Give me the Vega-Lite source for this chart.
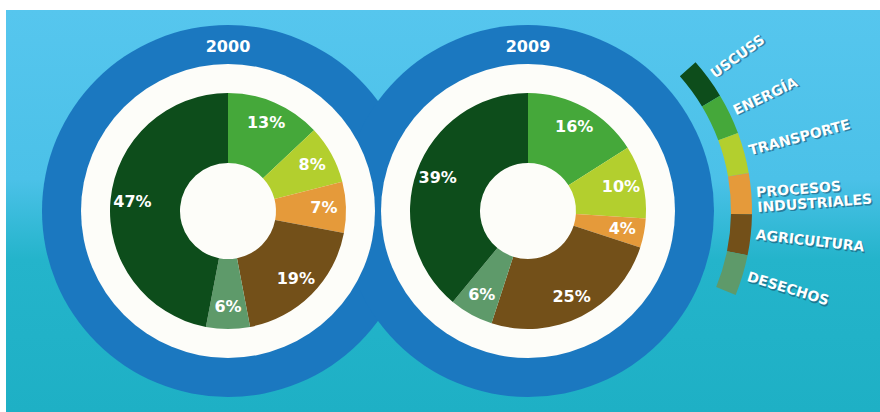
{
  "$schema": "https://vega.github.io/schema/vega-lite/v6.json",
  "width": 880,
  "height": 412,
  "autosize": {"type": "fit", "contains": "padding"},
  "padding": {"left": 6, "top": 10, "right": 0, "bottom": 0},
  "background": "#ffffff",
  "config": {
    "view": {
      "stroke": null,
      "fill": {
        "gradient": "linear", "x1": 0, "y1": 0, "x2": 0, "y2": 1,
        "stops": [
          {"offset": 0, "color": "#56c6ee"},
          {"offset": 0.42, "color": "#4bc1e8"},
          {"offset": 0.62, "color": "#24b4cb"},
          {"offset": 1, "color": "#1eb0c5"}
        ]
      }
    }
  },
  "datasets": {
    "years": [{"year": "2000"}, {"year": "2009"}],
    "shares": [
      {"year": "2000", "sector": "ENERGÍA", "ord": 1, "share": 0.13},
      {"year": "2000", "sector": "TRANSPORTE", "ord": 2, "share": 0.08},
      {"year": "2000", "sector": "PROCESOS INDUSTRIALES", "ord": 3, "share": 0.07},
      {"year": "2000", "sector": "AGRICULTURA", "ord": 4, "share": 0.19},
      {"year": "2000", "sector": "DESECHOS", "ord": 5, "share": 0.06},
      {"year": "2000", "sector": "USCUSS", "ord": 6, "share": 0.47},
      {"year": "2009", "sector": "ENERGÍA", "ord": 1, "share": 0.16},
      {"year": "2009", "sector": "TRANSPORTE", "ord": 2, "share": 0.10},
      {"year": "2009", "sector": "PROCESOS INDUSTRIALES", "ord": 3, "share": 0.04},
      {"year": "2009", "sector": "AGRICULTURA", "ord": 4, "share": 0.25},
      {"year": "2009", "sector": "DESECHOS", "ord": 5, "share": 0.06},
      {"year": "2009", "sector": "USCUSS", "ord": 6, "share": 0.39}
    ],
    "sectors": [
      {"sector": "USCUSS", "rank": 1},
      {"sector": "ENERGÍA", "rank": 2},
      {"sector": "TRANSPORTE", "rank": 3},
      {"sector": "PROCESOS INDUSTRIALES", "rank": 4},
      {"sector": "AGRICULTURA", "rank": 5},
      {"sector": "DESECHOS", "rank": 6}
    ]
  },
  "encoding": {
    "x": {
      "field": "year", "type": "nominal",
      "scale": {"type": "point", "domain": ["2000", "2009"], "range": [222, 522], "padding": 0},
      "axis": null
    }
  },
  "layer": [
    {
      "data": {"name": "years"},
      "mark": {"type": "arc", "radius": 186, "theta": 0, "theta2": 6.2832, "fill": "#1b78c0"}
    },
    {
      "data": {"name": "years"},
      "mark": {"type": "arc", "radius": 147, "theta": 0, "theta2": 6.2832, "fill": "#fdfdf9"}
    },
    {
      "data": {"name": "years"},
      "mark": {"type": "text", "radius": 164, "theta": 0, "font": "DejaVu Sans", "fontWeight": "bold", "fontSize": 16, "fill": "#ffffff", "align": "center", "baseline": "middle"},
      "encoding": {"text": {"field": "year", "type": "nominal"}}
    },
    {
      "data": {"name": "shares"},
      "transform": [{"filter": "datum.year === '2000'"}],
      "encoding": {
        "theta": {"field": "share", "type": "quantitative", "stack": true},
        "order": {"field": "ord", "type": "quantitative"}
      },
      "layer": [
        {
          "mark": {"type": "arc", "outerRadius": 118, "innerRadius": 48},
          "encoding": {
            "color": {
              "field": "sector", "type": "nominal", "legend": null,
              "scale": {
                "domain": ["USCUSS", "ENERGÍA", "TRANSPORTE", "PROCESOS INDUSTRIALES", "AGRICULTURA", "DESECHOS"],
                "range": ["#0d4d1b", "#45a83a", "#b3cf2e", "#e59a3a", "#735019", "#5e9a6a"]
              }
            }
          }
        },
        {
          "mark": {"type": "text", "radius": 96, "font": "DejaVu Sans", "fontWeight": "bold", "fontSize": 16, "align": "center", "baseline": "middle"},
          "encoding": {
            "text": {"field": "share", "type": "quantitative", "format": ".0%"},
            "detail": {"field": "sector", "type": "nominal"},
            "color": {"value": "#ffffff"}
          }
        }
      ]
    },
    {
      "data": {"name": "shares"},
      "transform": [{"filter": "datum.year === '2009'"}],
      "encoding": {
        "theta": {"field": "share", "type": "quantitative", "stack": true},
        "order": {"field": "ord", "type": "quantitative"}
      },
      "layer": [
        {
          "mark": {"type": "arc", "outerRadius": 118, "innerRadius": 48},
          "encoding": {
            "color": {"field": "sector", "type": "nominal", "legend": null}
          }
        },
        {
          "mark": {"type": "text", "radius": 96, "font": "DejaVu Sans", "fontWeight": "bold", "fontSize": 16, "align": "center", "baseline": "middle"},
          "encoding": {
            "text": {"field": "share", "type": "quantitative", "format": ".0%"},
            "detail": {"field": "sector", "type": "nominal"},
            "color": {"value": "#ffffff"}
          }
        }
      ]
    },
    {
      "data": {"name": "sectors"},
      "encoding": {
        "x": {"datum": "2009", "type": "nominal"},
        "theta": {"aggregate": "count", "type": "quantitative", "stack": true, "scale": {"domain": [0, 6], "range": [0.845, 1.955]}},
        "order": {"field": "rank", "type": "quantitative"}
      },
      "layer": [
        {
          "mark": {"type": "arc", "outerRadius": 224, "innerRadius": 203},
          "encoding": {
            "color": {"field": "sector", "type": "nominal", "legend": null}
          }
        },
        {
          "mark": {"type": "text", "radius": 229, "dx": 1.5, "dy": 1.5, "align": "left", "baseline": "middle", "font": "DejaVu Sans", "fontWeight": "bold", "fontSize": 14, "lineBreak": " ", "lineHeight": 15, "opacity": 0.55},
          "encoding": {
            "text": {"field": "sector", "type": "nominal"},
            "detail": {"field": "sector", "type": "nominal"},
            "angle": {"field": "rank", "type": "quantitative", "scale": {"domain": [1, 6], "range": [-36, 17]}, "legend": null},
            "color": {"value": "#1a4a66"}
          }
        },
        {
          "mark": {"type": "text", "radius": 229, "align": "left", "baseline": "middle", "font": "DejaVu Sans", "fontWeight": "bold", "fontSize": 14, "lineBreak": " ", "lineHeight": 15},
          "encoding": {
            "text": {"field": "sector", "type": "nominal"},
            "detail": {"field": "sector", "type": "nominal"},
            "angle": {"field": "rank", "type": "quantitative", "scale": {"domain": [1, 6], "range": [-36, 17]}, "legend": null},
            "color": {"value": "#ffffff"}
          }
        }
      ]
    }
  ],
  "resolve": {"scale": {"theta": "independent"}}
}
